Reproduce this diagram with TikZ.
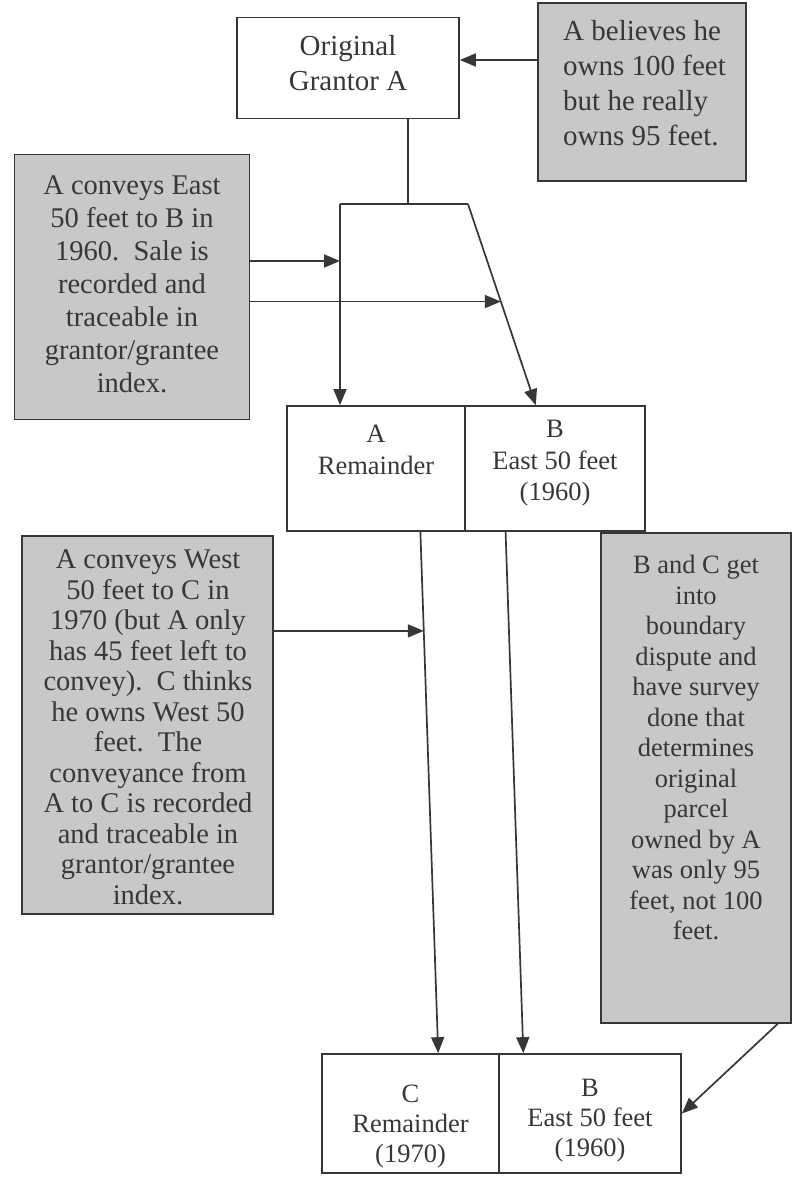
\documentclass[tikz,border=0pt]{standalone}
\usepackage{fontspec}
\setmainfont{Liberation Serif}
\usetikzlibrary{arrows.meta,calc}
\definecolor{inkc}{RGB}{55,55,55}
\definecolor{boxgray}{RGB}{200,200,200}
\newcommand\fsz[2]{\fontsize{#1}{#2}\selectfont}
\tikzset{
  base/.style={draw=inkc, line width=1.7pt, inner sep=0pt},
  plainbox/.style={base, fill=white},
  graybox/.style={base, fill=boxgray},
  txt/.style={inner sep=0pt, align=center, text=inkc},
  conn/.style={draw=inkc, line width=1.7pt},
  arr/.style={conn, -{Triangle[length=16pt,width=13pt]}}
}
\begin{document}
\begin{tikzpicture}[x=1pt,y=-1pt]
\useasboundingbox (0,0) rectangle (801,1190);
\fill[white] (0,0) rectangle (801,1190);

% top box
\node[plainbox, minimum width=222, minimum height=101] (orig) at (348,68) {};
\node[txt, font=\fsz{29}{35}] (origt) at (348,63) {Original\\Grantor A};

% gray box top right
\node[graybox, minimum width=208, minimum height=178] (g1) at (642,92) {};
\node[txt, align=left, anchor=north west, font=\fsz{29}{35}] (g1t) at (563,20)
  {A believes he\\owns 100 feet\\but he really\\owns 95 feet.};
\draw[arr] (g1.west |- 0,60) -- (orig.east |- 0,60);

% gray box left: East
\node[graybox, minimum width=235, minimum height=265] (e1) at (132,287) {};
\node[txt, font=\fsz{28.5}{33}] (e1t) at (132,284)
  {A conveys East\\50 feet to B in\\1960.\ \ Sale is\\recorded and\\traceable in\\grantor/grantee\\index.};

% middle box
\node[plainbox, minimum width=178, minimum height=125] (ma) at (376,468.5) {};
\node[plainbox, minimum width=180, minimum height=125] (mb) at (555,468.5) {};
\node[txt, anchor=north, font=\fsz{26.5}{31.5}] (mat) at (376,425) {A\\Remainder};
\node[txt, anchor=north, font=\fsz{26.5}{31.5}] (mbt) at (555,420) {B\\East 50 feet\\(1960)};

% junction
\coordinate (J) at (408,204);
\coordinate (jl) at (340,204);
\coordinate (jr) at (468,204);
\coordinate (mbtop) at ($(mb.north west)!0.394!(mb.north east)$);
\draw[conn] (orig.south -| J) -- (J);
\draw[conn] (jl) -- (jr);
\draw[arr] (jl) -- (ma.north -| jl);
\draw[arr] (jr) -- (mbtop);
\coordinate (d1) at ($(jr)!0.485!(mbtop)$);
\draw[arr] (e1.east |- 0,261) -- (jl |- 0,261);
\draw[arr] (e1.east |- d1) -- (d1);

% gray box left: West
\node[graybox, minimum width=251, minimum height=378] (w2) at (147.5,725) {};
\node[txt, anchor=north, font=\fsz{28.5}{30.5}] (w2t) at (148,549.5)
  {A conveys West\\50 feet to C in\\1970 (but A only\\has 45 feet left to\\convey).\ \ C thinks\\he owns West 50\\feet.\ \ The\\conveyance from\\A to C is recorded\\and traceable in\\grantor/grantee\\index.};

% gray box right
\node[graybox, minimum width=190, minimum height=490] (g3) at (696,778) {};
\node[txt, anchor=north, font=\fsz{26.5}{30.5}] (g3t) at (696,555)
  {B and C get\\into\\boundary\\dispute and\\have survey\\done that\\determines\\original\\parcel\\owned by A\\was only 95\\feet, not 100\\feet.};

% bottom box
\node[plainbox, minimum width=177, minimum height=119] (ca) at (410.5,1113.5) {};
\node[plainbox, minimum width=182, minimum height=119] (cb) at (590,1113.5) {};
\node[txt, anchor=north, font=\fsz{26.5}{30}] (cat) at (410.5,1085) {C\\Remainder\\(1970)};
\node[txt, anchor=north, font=\fsz{26.5}{30}] (cbt) at (590,1079) {B\\East 50 feet\\(1960)};

% vertical connectors
\coordinate (ls) at ($(ma.south west)!0.747!(ma.south east)$);
\coordinate (le) at ($(ca.north west)!0.655!(ca.north east)$);
\coordinate (rs) at ($(mb.south west)!0.228!(mb.south east)$);
\coordinate (re) at ($(cb.north west)!0.137!(cb.north east)$);
\draw[arr] (ls) -- (le);
\draw[arr] (rs) -- (re);
\coordinate (d2) at ($(ls)!0.19!(le)$);
\draw[arr] (w2.east |- d2) -- (d2);

% survey arrow
\draw[arr] ($(g3.south west)!0.926!(g3.south east)$) -- (cb.east);
\end{tikzpicture}
\end{document}
